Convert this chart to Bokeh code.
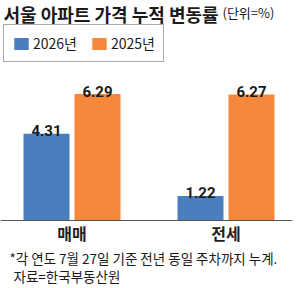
from bokeh.plotting import figure
from bokeh.models import Range1d, Label, Legend, LegendItem, ColumnDataSource
from bokeh.core.properties import value
from bokeh.embed import file_html
from bokeh.resources import INLINE

# ---- data ----
categories = ["매매", "전세"]
series_names = ["2026년", "2025년"]
values_2026 = [4.31, 1.22]
values_2025 = [6.29, 6.27]
colors = ["#4A7EBF", "#F5883A"]
title_main = "서울 아파트 가격 누적 변동률"
title_unit = "(단위=%)"
note_1 = "*각 연도 7월 27일 기준 전년 동일 주차까지 누계."
note_2 = "자료=한국부동산원"

W, H = 300, 288
FONT = "Noto Sans CJK KR"

group_x = list(range(len(categories)))
offset = 0.1656
bar_w = 0.2987

p = figure(width=W, height=H, output_backend="svg", toolbar_location=None,
           x_range=Range1d(-0.4643, 1.4838), y_range=Range1d(-3.383, 10.945),
           x_axis_type=None, y_axis_type=None, min_border=0,
           outline_line_color=None)
p.grid.visible = False
p.background_fill_color = "white"
p.border_fill_color = "white"

src26 = ColumnDataSource(dict(x=[g - offset for g in group_x], top=values_2026,
                              lab=[f"{v:.2f}" for v in values_2026]))
src25 = ColumnDataSource(dict(x=[g + offset for g in group_x], top=values_2025,
                              lab=[f"{v:.2f}" for v in values_2025]))

r26 = p.vbar(x="x", top="top", width=bar_w, bottom=0, source=src26,
             fill_color=colors[0], line_color=None)
r25 = p.vbar(x="x", top="top", width=bar_w, bottom=0, source=src25,
             fill_color=colors[1], line_color=None)

# baseline
p.segment(x0=[-0.4643], y0=[0], x1=[1.43], y1=[0], line_color="#555555", line_width=1.2)

for s in (src26, src25):
    p.text(x="x", y="top", text="lab", source=s, text_align="center",
           text_baseline="alphabetic", y_offset=-3, text_font=value("Roboto"),
           text_font_style="bold", text_font_size="15px", text_color="#1a1a1a")

p.text(x=group_x, y=[0, 0], text=categories, text_align="center",
       text_baseline="alphabetic", y_offset=12, text_font=value(FONT),
       text_font_style="bold", text_font_size="16px", text_color="#222222")

p.add_layout(Label(x=3, y=H, x_units="screen", y_units="screen", text=title_main,
                   text_font=FONT, text_font_style="bold", text_font_size="18px",
                   text_baseline="top", text_color="#1a1a1a"))
p.add_layout(Label(x=222, y=H - 2, x_units="screen", y_units="screen", text=title_unit,
                   text_font=FONT, text_font_size="13px", text_baseline="top",
                   text_color="#1a1a1a"))
p.add_layout(Label(x=9, y=H - 267, x_units="screen", y_units="screen", text=note_1,
                   text_font=FONT, text_font_size="13.5px", text_color="#1a1a1a"))
p.add_layout(Label(x=13, y=H - 285, x_units="screen", y_units="screen", text=note_2,
                   text_font=FONT, text_font_size="13.5px", text_color="#1a1a1a"))

legend = Legend(items=[LegendItem(label=series_names[0], renderers=[r26]),
                       LegendItem(label=series_names[1], renderers=[r25])],
                orientation="horizontal", location=(3, H - 62),
                glyph_width=18, glyph_height=15, label_standoff=3, spacing=13,
                padding=8, margin=0, border_line_color="#555555", border_line_width=1,
                label_text_font=FONT, label_text_font_size="14px",
                label_text_color="#1a1a1a", background_fill_alpha=1,
                label_height=15)
p.add_layout(legend)

open("out.html", "w").write(file_html(p, INLINE))
